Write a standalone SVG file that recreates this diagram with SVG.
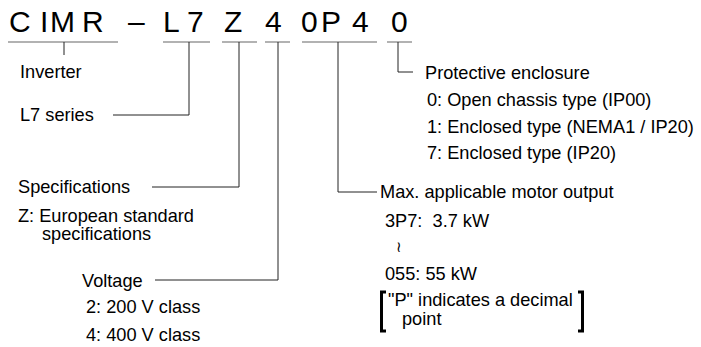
<svg xmlns="http://www.w3.org/2000/svg" width="701" height="347" viewBox="0 0 701 347">
<style>
text{font-family:"Liberation Sans",Arial,sans-serif;fill:#000;}
.t{font-size:18.2px;white-space:pre;}
.h{font-size:30px;}
.c{fill:none;stroke:#222;stroke-width:1;}
.u{fill:none;stroke:#666;stroke-width:1.2;}
.br{fill:none;stroke:#000;stroke-width:3;}
</style>
<rect width="701" height="347" fill="#fff"/>
<g id="title">
<text class="h" y="32"><tspan x="9">C</tspan><tspan x="40">I</tspan><tspan x="50">M</tspan><tspan x="82">R</tspan><tspan x="128">–</tspan><tspan x="163">L</tspan><tspan x="187">7</tspan><tspan x="224">Z</tspan><tspan x="265">4</tspan><tspan x="301">0</tspan><tspan x="321">P</tspan><tspan x="352">4</tspan><tspan x="391">0</tspan></text>
</g>
<g id="connectors">
<path class="u" d="M8 42H118M163 42H210M222 42H257M265 42H290M302 42H377M387 42H412"/>
<path class="c" d="M64 42V55"/>
<path class="c" d="M189 42V115H113"/>
<path class="c" d="M239 42V187H152"/>
<path class="c" d="M278 42V280H155"/>
<path class="c" d="M338 42V192H377"/>
<path class="c" d="M398 42V72H413"/>
</g>
<g id="inverter"><text class="t" x="20" y="78">Inverter</text></g>
<g id="series"><text class="t" x="20" y="121">L7 series</text></g>
<g id="specifications">
<text class="t" x="18" y="193">Specifications</text>
<text class="t" x="18" y="222">Z: European standard</text>
<text class="t" x="42" y="240">specifications</text>
</g>
<g id="voltage">
<text class="t" x="82" y="287">Voltage</text>
<text class="t" x="86" y="313">2: 200 V class</text>
<text class="t" x="86" y="341">4: 400 V class</text>
</g>
<g id="enclosure">
<text class="t" x="425" y="79">Protective enclosure</text>
<text class="t" x="427" y="106">0: Open chassis type (IP00)</text>
<text class="t" x="427" y="133">1: Enclosed type (NEMA1 / IP20)</text>
<text class="t" x="427" y="159">7: Enclosed type (IP20)</text>
</g>
<g id="motor">
<text class="t" x="380" y="198">Max. applicable motor output</text>
<text class="t" x="385" y="227">3P7:  3.7 kW</text>
<text x="396" y="252" style="font-family:'DejaVu Sans',sans-serif;font-size:15px">≀</text>
<text class="t" x="385" y="280">055: 55 kW</text>
<path class="br" d="M386 292H381.5V331H386"/>
<path class="br" d="M578 292H582.5V331H578"/>
<text class="t" x="388" y="306">"P" indicates a decimal</text>
<text class="t" x="402" y="325">point</text>
</g>
</svg>
